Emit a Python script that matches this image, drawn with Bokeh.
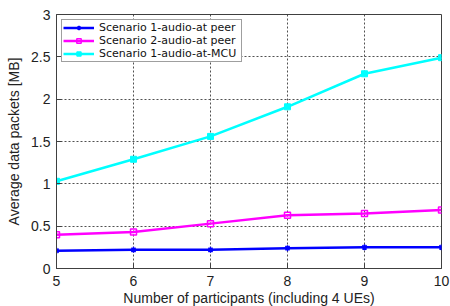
from bokeh.plotting import figure
from bokeh.models import Legend, LegendItem, FixedTicker, Range1d
from bokeh.embed import file_html
from bokeh.resources import INLINE

participants = [5, 6, 7, 8, 9, 10]
s1_peer = [0.21, 0.22, 0.22, 0.24, 0.25, 0.25]
s2_peer = [0.40, 0.43, 0.53, 0.63, 0.65, 0.69]
s1_mcu = [1.03, 1.29, 1.56, 1.91, 2.30, 2.49]
y_ticks = [0, 0.5, 1, 1.5, 2, 2.5, 3]
x_ticks = [5, 6, 7, 8, 9, 10]

FONT = "Liberation Sans"
LFONT = "DejaVu Sans"

p = figure(frame_width=385, frame_height=254, output_backend="svg", toolbar_location=None,
           x_range=Range1d(5, 10), y_range=Range1d(0, 3),
           min_border_left=56, min_border_top=14, min_border_right=9, min_border_bottom=38)
p.background_fill_color = "white"
p.border_fill_color = "white"
p.outline_line_color = "#404040"
p.outline_line_width = 1

for ax in (p.xaxis[0], p.yaxis[0]):
    ax.axis_line_color = "#404040"
    ax.major_tick_in = 5
    ax.major_tick_out = 0
    ax.minor_tick_line_color = None
    ax.major_tick_line_color = "#404040"
    ax.major_label_text_font = FONT
    ax.major_label_text_font_size = "14px"
    ax.major_label_text_color = "#222222"
    ax.axis_label_text_font = FONT
    ax.axis_label_text_font_size = "14px"
    ax.axis_label_text_font_style = "normal"
    ax.axis_label_text_color = "#222222"

p.xaxis[0].ticker = FixedTicker(ticks=x_ticks)
p.yaxis[0].ticker = FixedTicker(ticks=y_ticks)
p.xaxis[0].axis_label = "Number of participants (including 4 UEs)"
p.yaxis[0].axis_label = "Average data packets [MB]"
p.xaxis[0].major_label_standoff = 7
p.xaxis[0].axis_label_standoff = 1
p.yaxis[0].major_label_standoff = 6
p.yaxis[0].axis_label_standoff = 6

p.xgrid.ticker = FixedTicker(ticks=x_ticks)
p.ygrid.ticker = FixedTicker(ticks=y_ticks)
for g in (p.xgrid[0], p.ygrid[0]):
    g.grid_line_color = "#333333"
    g.grid_line_dash = "2 2"
    g.grid_line_width = 1
    g.grid_line_alpha = 0.85

r1 = p.line(participants, s1_peer, line_color="#0000ff", line_width=2.5)
m1 = p.scatter(participants, s1_peer, marker="asterisk", size=6, line_color="#0000ff", line_width=1.5)
r2 = p.line(participants, s2_peer, line_color="#ff00ff", line_width=2.5)
m2 = p.scatter(participants, s2_peer, marker="square", size=6, line_color="#ff00ff",
               fill_color="white", fill_alpha=0.0, line_width=1.5)
r3 = p.line(participants, s1_mcu, line_color="#00ffff", line_width=2.5)
m3 = p.scatter(participants, s1_mcu, marker="square", size=6, line_color="#00ffff",
               fill_color="#00ffff")

legend = Legend(items=[
    LegendItem(label="Scenario 1-audio-at peer", renderers=[r1, m1]),
    LegendItem(label="Scenario 2-audio-at peer", renderers=[r2, m2]),
    LegendItem(label="Scenario 1-audio-at-MCU", renderers=[r3, m3]),
], location="top_left")
legend.label_text_font = LFONT
legend.label_text_font_size = "11px"
legend.label_text_color = "#111111"
legend.label_height = 11
legend.label_width = 141
legend.glyph_height = 11
legend.glyph_width = 31
legend.spacing = 0
legend.padding = 1
legend.margin = 5
legend.label_standoff = 5
legend.border_line_color = "#404040"
legend.border_line_width = 1
legend.background_fill_alpha = 1.0
p.add_layout(legend)

open("out.html", "w").write(file_html(p, INLINE))
